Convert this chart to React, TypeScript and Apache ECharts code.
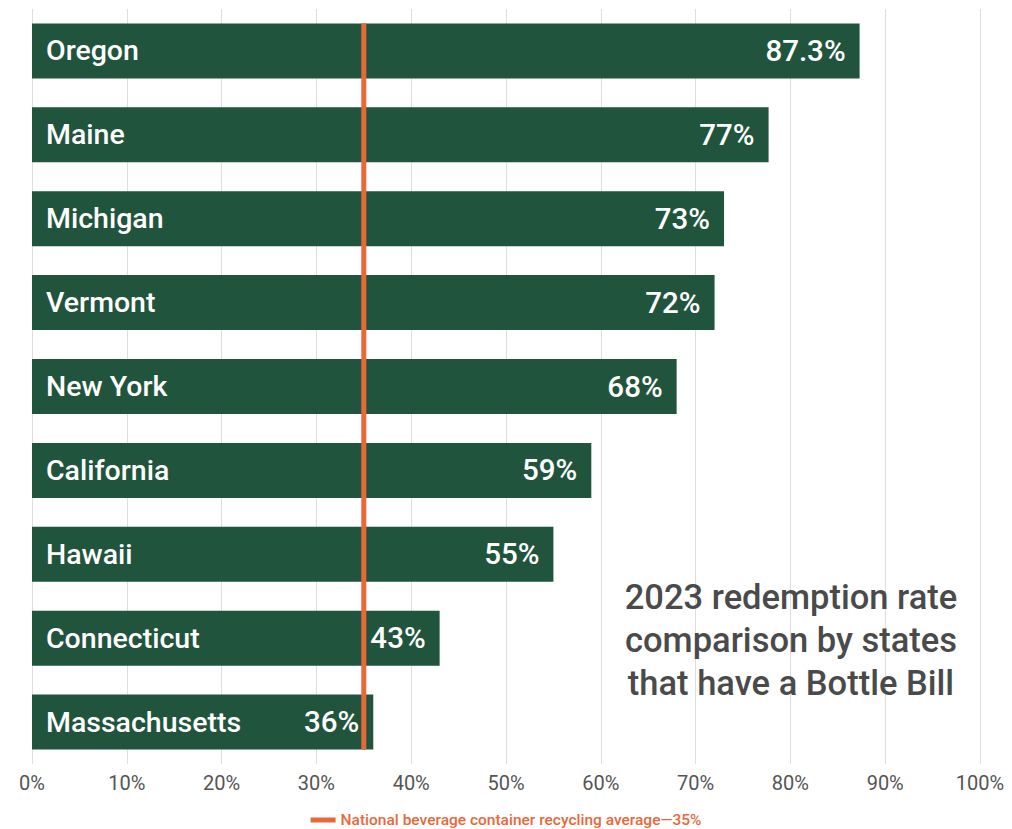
import React, { useEffect, useRef } from "react";
import * as echarts from "echarts";

const STATES = [
  "Oregon",
  "Maine",
  "Michigan",
  "Vermont",
  "New York",
  "California",
  "Hawaii",
  "Connecticut",
  "Massachusetts",
];
const RATES = [87.3, 77.7, 73, 72, 68, 59, 55, 43, 36];
const RATE_LABELS = ["87.3%", "77%", "73%", "72%", "68%", "59%", "55%", "43%", "36%"];
const X_TICKS = [0, 10, 20, 30, 40, 50, 60, 70, 80, 90, 100];
const NATIONAL_AVG = 35;
const AVG_NAME = "National beverage container recycling average\u201435%";
const TITLE_LINES = ["2023 redemption rate", "comparison by states", "that have a Bottle Bill"];

const GREEN = "#21543d";
const ORANGE = "#e8683a";
const BAR_W = 55;

export default function App() {
  const ref = useRef<HTMLDivElement>(null);
  useEffect(() => {
    if (!ref.current) return;
    const chart = echarts.init(ref.current, null, { renderer: "svg" });
    const font = "Roboto, 'DejaVu Sans', sans-serif";
    chart.setOption({
      animation: false,
      backgroundColor: "#ffffff",
      grid: { left: 32, right: 32, top: 9, bottom: 65, containLabel: false },
      legend: {
        show: true,
        top: 807,
        left: "center",
        data: [{ name: AVG_NAME, icon: "rect" }],
        itemWidth: 25,
        itemHeight: 5,
        itemGap: 10,
        textStyle: { color: ORANGE, fontSize: 15.5, fontFamily: font, fontWeight: 500 },
      },
      xAxis: {
        type: "value",
        min: X_TICKS[0],
        max: X_TICKS[X_TICKS.length - 1],
        interval: 10,
        axisLine: { show: false },
        axisTick: { show: false },
        splitLine: { show: true, lineStyle: { color: "#dedede", width: 1 } },
        axisLabel: {
          formatter: (v: number) => `${v}%`,
          color: "#555555",
          fontSize: 20,
          fontFamily: font,
          margin: 9,
        },
      },
      yAxis: {
        type: "category",
        data: STATES,
        inverse: true,
        axisLine: { show: false },
        axisTick: { show: false },
        axisLabel: { show: false },
        splitLine: { show: false },
      },
      series: [
        {
          type: "bar",
          data: RATES,
          barWidth: BAR_W,
          itemStyle: { color: GREEN },
          label: {
            show: true,
            position: "insideLeft",
            distance: 14,
            formatter: (p: any) => STATES[p.dataIndex],
            color: "#ffffff",
            fontSize: 28.5,
            fontFamily: font,
            fontWeight: 500,
          },
          z: 2,
        },
        {
          type: "bar",
          data: RATES,
          barWidth: BAR_W,
          barGap: "-100%",
          itemStyle: { color: "transparent" },
          label: {
            show: true,
            position: "insideRight",
            distance: 14,
            formatter: (p: any) => RATE_LABELS[p.dataIndex],
            color: "#ffffff",
            fontSize: 29.5,
            fontFamily: font,
            fontWeight: 500,
          },
          z: 4,
          silent: true,
        },
        {
          type: "custom",
          name: AVG_NAME,
          data: [[NATIONAL_AVG, 0]],
          encode: { x: 0, y: 1 },
          itemStyle: { color: ORANGE },
          z: 3,
          renderItem: (params: any, api: any) => {
            const v = api.value(0);
            const top = api.coord([v, 0]);
            const bottom = api.coord([v, STATES.length - 1]);
            return {
              type: "line",
              shape: {
                x1: top[0],
                y1: top[1] - BAR_W / 2,
                x2: bottom[0],
                y2: bottom[1] + BAR_W / 2,
              },
              style: { stroke: ORANGE, lineWidth: 5 },
            };
          },
        },
      ],
      graphic: [
        {
          type: "text",
          x: 791,
          y: 575,
          style: {
            text: TITLE_LINES.join("\n"),
            fill: "#4a4a4a",
            fontSize: 34.5,
            fontFamily: font,
            fontWeight: 500,
            lineHeight: 43,
            align: "center",
            verticalAlign: "top",
          },
          z: 10,
        },
      ],
    });
    return () => chart.dispose();
  }, []);
  return (
    <div
      ref={ref}
      style={{ position: "fixed", left: 0, top: 0, width: 1012, height: 829 }}
    />
  );
}
